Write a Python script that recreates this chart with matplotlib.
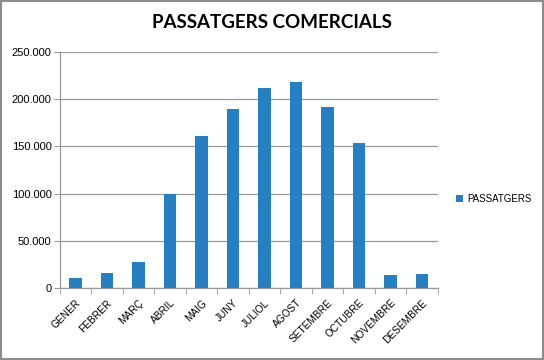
import matplotlib

matplotlib.use("Agg")
import matplotlib.pyplot as plt
from matplotlib.patches import Rectangle
from matplotlib.ticker import FuncFormatter, MultipleLocator

MONTHS = ["GENER", "FEBRER", "MARÇ", "ABRIL", "MAIG", "JUNY", "JULIOL",
          "AGOST", "SETEMBRE", "OCTUBRE", "NOVEMBRE", "DESEMBRE"]
PASSATGERS = [10600, 15600, 27500, 99900, 160700, 189900, 211400,
              218500, 192100, 153200, 13400, 14500]

BAR_COLOR = "#2580C3"
GRID_COLOR = "#999999"

plt.rcParams["font.family"] = ["Liberation Sans", "DejaVu Sans"]


def thousands(v, _pos):
    return f"{int(v):,}".replace(",", ".")


fig = plt.figure(figsize=(5.44, 3.6), dpi=100)
ax = fig.add_axes([0.110, 0.200, 0.695, 0.656])

x = list(range(len(MONTHS)))
ax.bar(x, PASSATGERS, width=0.4, color=BAR_COLOR, label="PASSATGERS", zorder=3)

ax.set_xlim(-0.5, len(MONTHS) - 0.5)
ax.set_ylim(0, 250000)
ax.yaxis.set_major_locator(MultipleLocator(50000))
ax.yaxis.set_major_formatter(FuncFormatter(thousands))
ax.grid(axis="y", color=GRID_COLOR, linewidth=0.9, zorder=0)

ax.set_xticks(x)
ax.set_xticklabels(MONTHS, rotation=45, ha="right", rotation_mode="anchor", fontsize=7.3)
ax.set_xticks([i - 0.5 for i in range(len(MONTHS) + 1)], minor=True)
ax.tick_params(axis="x", which="major", length=0, pad=7)
ax.tick_params(axis="x", which="minor", length=4, color=GRID_COLOR, direction="out")
ax.tick_params(axis="y", length=4, color=GRID_COLOR, labelsize=8, pad=2)

for side in ("top", "right"):
    ax.spines[side].set_visible(False)
for side in ("left", "bottom"):
    ax.spines[side].set_color(GRID_COLOR)
    ax.spines[side].set_linewidth(0.9)

fig.text(0.5, 0.937, "PASSATGERS COMERCIALS", ha="center", va="center",
         fontsize=13.5, fontweight="bold", family=["Lato", "DejaVu Sans"])

fig.legend(loc="center left", bbox_to_anchor=(0.823, 0.447), frameon=False,
           fontsize=7, handlelength=0.7, handleheight=0.7, handletextpad=0.4)

fig.patches.append(Rectangle((0.001, 0.002), 0.997, 0.995, transform=fig.transFigure,
                             fill=False, edgecolor="#8C8C8C", linewidth=1.5))

fig.savefig("out.png", dpi=100)
